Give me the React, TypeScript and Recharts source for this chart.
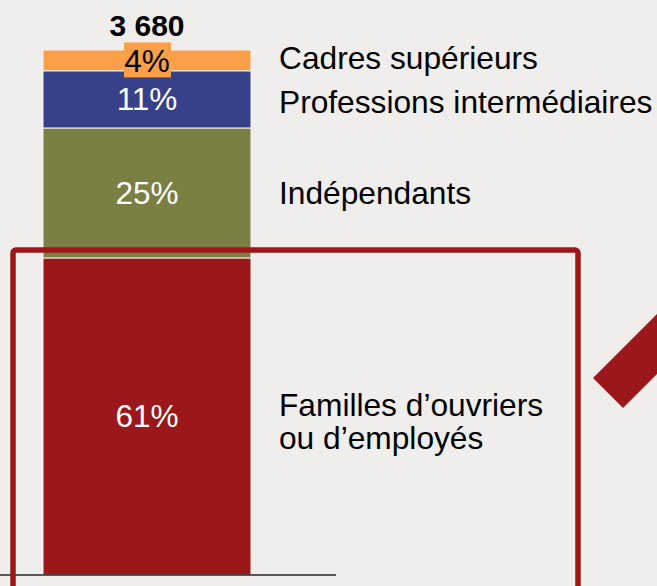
import React from "react";
import { BarChart, Bar, XAxis, YAxis, LabelList } from "recharts";

const categories = ["Ensemble"];
const totals = [3680];
const ouvriers = [61];
const independants = [25];
const intermediaires = [11];
const cadres = [4];

const seriesNames = {
  ouvriers: ["Familles d\u2019ouvriers", "ou d\u2019employés"],
  independants: ["Indépendants"],
  intermediaires: ["Professions intermédiaires"],
  cadres: ["Cadres supérieurs"],
};

const data = categories.map((c, i) => ({
  name: c,
  total: totals[i],
  ouvriers: ouvriers[i],
  independants: independants[i],
  intermediaires: intermediaires[i],
  cadres: cadres[i],
}));

const FONT = "'Liberation Sans', Arial, sans-serif";
const BG = "#EFEEEC";
const RED = "#9B1719";
const GREEN = "#7A8044";
const BLUE = "#37418A";
const ORANGE = "#FBA048";

const pctLabel = (color: string) => (props: any) => {
  const { x, y, width, height, value } = props;
  const cx = Number(x) + Number(width) / 2;
  const cy = Number(y) + Number(height) / 2;
  return (
    <text x={cx} y={cy} dy={11} textAnchor="middle" fill={color} fontSize={31.5} fontFamily={FONT}>
      {value}%
    </text>
  );
};

const cadresPct = (props: any) => {
  const { x, y, width, height, value } = props;
  const cx = Number(x) + Number(width) / 2;
  const cy = Number(y) + Number(height) / 2;
  return (
    <g>
      <rect x={cx - 23} y={cy - 18} width={47} height={35} fill={ORANGE} />
      <text x={cx} y={cy} dy={12} textAnchor="middle" fill="#000" fontSize={31.5} fontFamily={FONT}>
        {value}%
      </text>
    </g>
  );
};

const sideLabel = (lines: string[], dyAdj: number) => (props: any) => {
  const { x, y, width, height } = props;
  const lx = Number(x) + Number(width) + 28;
  const cy = Number(y) + Number(height) / 2 + dyAdj;
  const lh = 33;
  const start = cy - ((lines.length - 1) * lh) / 2 + 11;
  return (
    <text x={lx} y={start} fill="#000" fontSize={31.7} fontFamily={FONT}>
      {lines.map((l, i) => (
        <tspan key={i} x={lx} y={start + i * lh}>
          {l}
        </tspan>
      ))}
    </text>
  );
};

const totalLabel = (props: any) => {
  const { x, y, width, value } = props;
  const cx = Number(x) + Number(width) / 2;
  const str = String(value).replace(/\B(?=(\d{3})+(?!\d))/g, " ");
  return (
    <text x={cx} y={Number(y) - 14} textAnchor="middle" fill="#000" fontSize={30} fontWeight="bold" fontFamily={FONT}>
      {str}
    </text>
  );
};

export default function App() {
  return (
    <div style={{ position: "fixed", left: 0, top: 0, width: 657, height: 586, background: BG, overflow: "hidden" }}>
      <BarChart
        width={657}
        height={586}
        data={data}
        margin={{ top: 50, right: 321, left: 0, bottom: 9 }}
        style={{ position: "absolute", left: 0, top: 0 }}
      >
        <YAxis hide domain={[0, "dataMax"]} />
        <XAxis
          dataKey="name"
          tick={false}
          tickLine={false}
          height={2}
          padding={{ left: 0, right: 42 }}
          axisLine={{ stroke: "#262626", strokeWidth: 1.5 }}
        />
        <Bar dataKey="ouvriers" stackId="a" fill={RED} stroke="#F4F2F0" strokeWidth={1} barSize={208} isAnimationActive={false}>
          <LabelList dataKey="ouvriers" content={pctLabel("#fff")} />
          <LabelList dataKey="ouvriers" content={sideLabel(seriesNames.ouvriers, 5)} />
        </Bar>
        <Bar dataKey="independants" stackId="a" fill={GREEN} stroke="#F4F2F0" strokeWidth={1} barSize={208} isAnimationActive={false}>
          <LabelList dataKey="independants" content={pctLabel("#fff")} />
          <LabelList dataKey="independants" content={sideLabel(seriesNames.independants, 0)} />
        </Bar>
        <Bar dataKey="intermediaires" stackId="a" fill={BLUE} stroke="#F4F2F0" strokeWidth={1} barSize={208} isAnimationActive={false}>
          <LabelList dataKey="intermediaires" content={pctLabel("#fff")} />
          <LabelList dataKey="intermediaires" content={sideLabel(seriesNames.intermediaires, 3)} />
        </Bar>
        <Bar dataKey="cadres" stackId="a" fill={ORANGE} stroke="#F4F2F0" strokeWidth={1} barSize={208} isAnimationActive={false}>
          <LabelList dataKey="cadres" content={cadresPct} />
          <LabelList dataKey="cadres" content={sideLabel(seriesNames.cadres, -2)} />
          <LabelList dataKey="total" content={totalLabel} />
        </Bar>
      </BarChart>
      <svg width={657} height={586} style={{ position: "absolute", left: 0, top: 0, pointerEvents: "none" }}>
        <rect x={13} y={250} width={565} height={420} rx={3} fill="none" stroke={RED} strokeWidth={5.5} />
        <polygon points="593,378 623,408 700,331 670,301" fill={RED} />
      </svg>
    </div>
  );
}
